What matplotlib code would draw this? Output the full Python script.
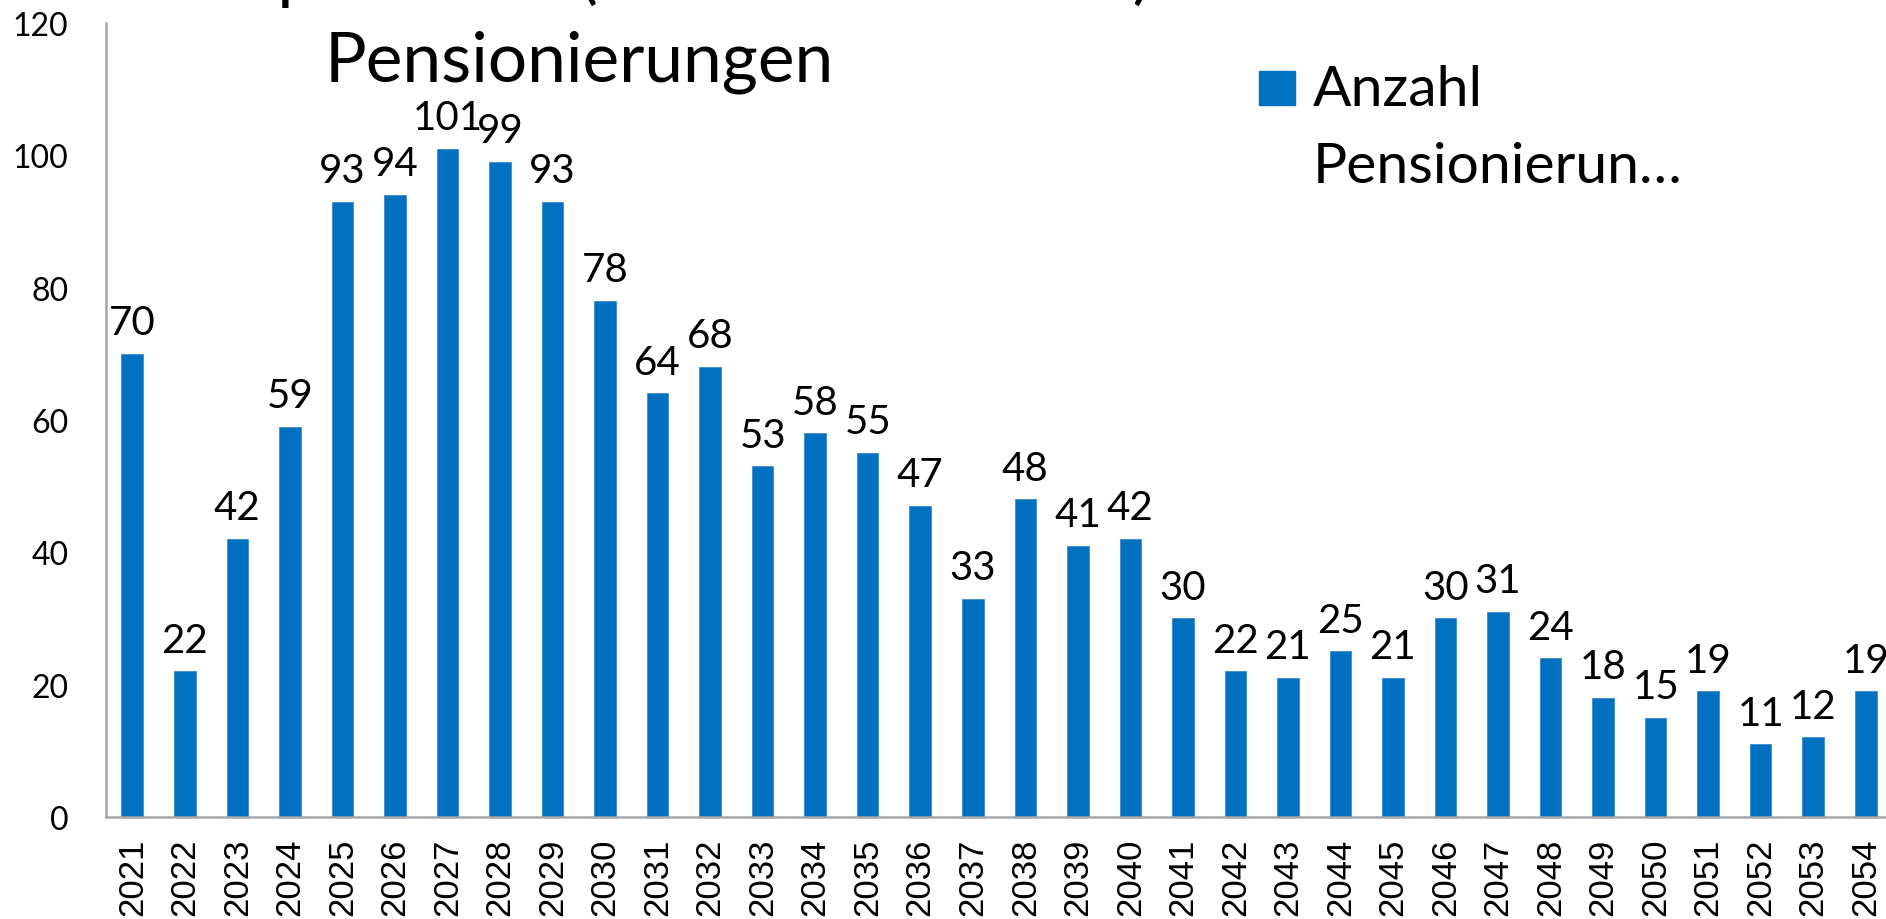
import matplotlib
matplotlib.use("Agg")
import matplotlib.pyplot as plt
from matplotlib.patches import Rectangle

# --- data ---
years = [str(y) for y in range(2021, 2055)]
anzahl = [70, 22, 42, 59, 93, 94, 101, 99, 93, 78, 64, 68, 53, 58, 55, 47, 33,
          48, 41, 42, 30, 22, 21, 25, 21, 30, 31, 24, 18, 15, 19, 11, 12, 19]
y_ticks = [0, 20, 40, 60, 80, 100, 120]
series_label = "Anzahl\nPensionierun\u2026"
chart_title = "Pensionierungen"
clipped_title = "Lehrpersonen (ab 2021 bis 2054)"

BLUE = "#0070C0"
GRAY = "#A6A6A6"
CAL = "Lato"      # stand-in for Calibri
ARIAL = "Liberation Sans"

fig = plt.figure(figsize=(18.86, 9.2), dpi=100)
ax = fig.add_axes([0.0562, 0.111, 0.947, 0.863])

x = range(len(years))
bars = ax.bar(x, anzahl, width=0.41, color=BLUE, edgecolor="#3C8DD0",
              linewidth=0.6)
ax.bar_label(bars, labels=[str(v) for v in anzahl], padding=9,
             fontsize=29, family=CAL)

ax.set_xlim(-0.5, len(years) - 0.5)
ax.set_ylim(0, 120)
ax.set_yticks(y_ticks)
ax.set_yticklabels([str(t) for t in y_ticks], fontsize=23, family=CAL)
ax.set_xticks(list(x))
ax.set_xticklabels(years, rotation=90, fontsize=25, family=ARIAL)
ax.tick_params(axis="both", length=0)
ax.tick_params(axis="y", pad=27)
ax.tick_params(axis="x", pad=15)

for s in ["top", "right"]:
    ax.spines[s].set_visible(False)
for s in ["left", "bottom"]:
    ax.spines[s].set_color(GRAY)
    ax.spines[s].set_linewidth(1.8)

# chart title (in plot area) and a clipped line above it
fig.text(0.307, 0.911, chart_title, ha="center", va="baseline",
         fontsize=50, family=CAL)
fig.text(0.075, 1.004, clipped_title, ha="left", va="baseline",
         fontsize=50, family=CAL)

# legend, drawn by hand to keep the large line spacing
fig.patches.append(Rectangle((1259 / 1886, 1 - 106 / 920), 36 / 1886, 34 / 920,
                             transform=fig.transFigure, color=BLUE))
label_lines = series_label.split("\n")
fig.text(1313 / 1886, 1 - 106 / 920, label_lines[0], ha="left", va="baseline",
         fontsize=41, family=CAL)
fig.text(1313 / 1886, 1 - 183 / 920, label_lines[1], ha="left",
         va="baseline", fontsize=41, family=CAL)

fig.savefig("out.png", dpi=100)
